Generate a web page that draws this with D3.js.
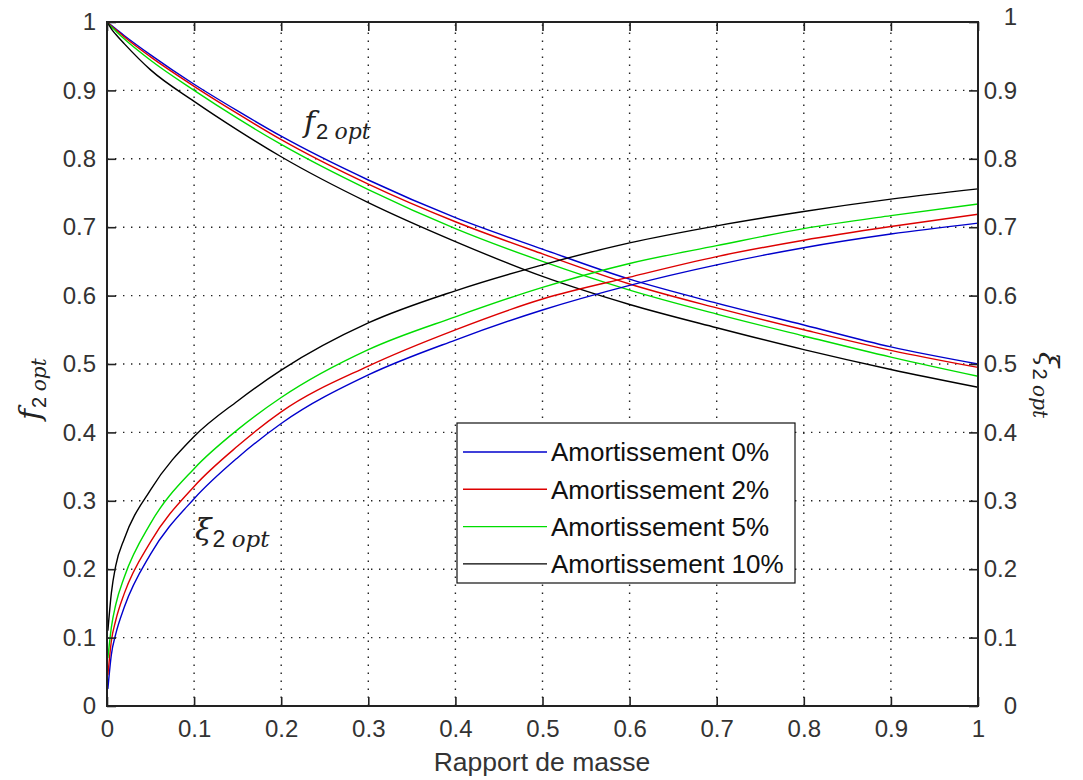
<!DOCTYPE html>
<html>
<head>
<meta charset="utf-8">
<script src="https://cdn.jsdelivr.net/npm/d3@7/dist/d3.min.js"></script>
<style>
  html, body { margin: 0; padding: 0; background: #fff; }
  svg { display: block; }
  .tick text { font-family: "Liberation Sans", Arial, sans-serif; font-size: 24px; fill: #333; }
</style>
</head>
<body>
<svg id="chart" width="1083" height="780"></svg>
<script>
// ---- data ----
const mu = [0.001, 0.005, 0.01, 0.02, 0.05, 0.1, 0.15, 0.2, 0.3, 0.4, 0.5, 0.6, 0.7, 0.8, 0.9, 1.0];
const fAtZero = 1;

const f2opt_0  = [0.999, 0.995, 0.990, 0.980, 0.952, 0.909, 0.870, 0.833, 0.769, 0.714, 0.668, 0.624, 0.589, 0.557, 0.525, 0.500];
const f2opt_2  = [0.999, 0.994, 0.989, 0.978, 0.949, 0.906, 0.866, 0.828, 0.763, 0.708, 0.661, 0.617, 0.582, 0.550, 0.520, 0.495];
const f2opt_5  = [0.998, 0.993, 0.987, 0.975, 0.944, 0.900, 0.859, 0.821, 0.755, 0.698, 0.650, 0.608, 0.573, 0.541, 0.510, 0.482];
const f2opt_10 = [0.998, 0.990, 0.982, 0.968, 0.930, 0.884, 0.842, 0.803, 0.736, 0.679, 0.628, 0.587, 0.553, 0.521, 0.492, 0.466];

const xi2opt_0  = [0.025, 0.075, 0.105, 0.145, 0.222, 0.303, 0.363, 0.413, 0.484, 0.535, 0.579, 0.615, 0.645, 0.670, 0.690, 0.706];
const xi2opt_2  = [0.045, 0.095, 0.125, 0.165, 0.240, 0.321, 0.380, 0.430, 0.497, 0.550, 0.595, 0.627, 0.657, 0.681, 0.701, 0.719];
const xi2opt_5  = [0.070, 0.115, 0.148, 0.189, 0.267, 0.347, 0.404, 0.451, 0.521, 0.569, 0.612, 0.647, 0.673, 0.698, 0.717, 0.734];
const xi2opt_10 = [0.110, 0.165, 0.205, 0.245, 0.316, 0.394, 0.446, 0.491, 0.560, 0.607, 0.645, 0.677, 0.702, 0.723, 0.741, 0.756];

const seriesNames  = ["Amortissement 0%", "Amortissement 2%", "Amortissement 5%", "Amortissement 10%"];
const seriesColors = ["#0000cc", "#dd0000", "#00dd00", "#000000"];
const fSeries  = [f2opt_0, f2opt_2, f2opt_5, f2opt_10];
const xiSeries = [xi2opt_0, xi2opt_2, xi2opt_5, xi2opt_10];

const xTicks = [0, 0.1, 0.2, 0.3, 0.4, 0.5, 0.6, 0.7, 0.8, 0.9, 1];
const yTicks = [0, 0.1, 0.2, 0.3, 0.4, 0.5, 0.6, 0.7, 0.8, 0.9, 1];

// ---- layout ----
const L = 107, R = 978, T = 22, B = 706;
const svg = d3.select("#chart");
const x = d3.scaleLinear().domain([0, 1]).range([L, R]);
const y = d3.scaleLinear().domain([0, 1]).range([B, T]);
const y2 = d3.scaleLinear().domain([0, 1]).range([B, T]);
const fmt = d => String(+d.toFixed(1));

// grid
const grid = svg.append("g").attr("stroke", "#222").attr("stroke-width", 1.4)
  .attr("stroke-dasharray", "1.4,6.6").attr("fill", "none");
xTicks.filter(t => t > 0 && t < 1).forEach(t => {
  grid.append("line").attr("x1", x(t)).attr("x2", x(t)).attr("y1", B).attr("y2", T);
});
yTicks.filter(t => t > 0 && t < 1).forEach(t => {
  grid.append("line").attr("x1", L).attr("x2", R).attr("y1", y(t)).attr("y2", y(t));
});

// curves
const fLine = d3.line().x(d => x(d[0])).y(d => y(d[1])).curve(d3.curveMonotoneX);
const xiLine = d3.line().x(d => x(d[0])).y(d => y2(d[1])).curve(d3.curveMonotoneX);
const curves = svg.append("g").attr("fill", "none").attr("stroke-width", 1.4);
fSeries.forEach((s, i) => {
  const pts = [[0, fAtZero]].concat(s.map((v, k) => [mu[k], v]));
  curves.append("path").attr("d", fLine(pts)).attr("stroke", seriesColors[i]);
});
xiSeries.forEach((s, i) => {
  const pts = s.map((v, k) => [mu[k], v]);
  curves.append("path").attr("d", xiLine(pts)).attr("stroke", seriesColors[i]);
});

// axes
const axStyle = g => {
  g.select(".domain").remove();
  g.selectAll(".tick line").attr("stroke", "#222").attr("stroke-width", 1.6);
};
svg.append("g").attr("transform", `translate(0,${B})`)
  .call(d3.axisBottom(x).tickValues(xTicks).tickSize(-9).tickPadding(14).tickFormat(fmt))
  .call(axStyle);
svg.append("g").attr("transform", `translate(0,${T})`)
  .call(d3.axisTop(x).tickValues(xTicks).tickSize(-9).tickFormat(""))
  .call(axStyle);
svg.append("g").attr("transform", `translate(${L},0)`)
  .call(d3.axisLeft(y).tickValues(yTicks).tickSize(-9).tickPadding(11).tickFormat(fmt))
  .call(axStyle);
const rAx = svg.append("g").attr("transform", `translate(${R},0)`)
  .call(d3.axisRight(y2).tickValues(yTicks).tickSize(-9).tickFormat(fmt))
  .call(axStyle);
rAx.selectAll(".tick text").attr("text-anchor", "end").attr("x", 39);
rAx.selectAll(".tick").filter(d => d === 1).select("text").attr("dy", "0.1em");

// frame
svg.append("rect").attr("x", L).attr("y", T).attr("width", R - L).attr("height", B - T)
  .attr("fill", "none").attr("stroke", "#222").attr("stroke-width", 2);

// legend
const lg = svg.append("g");
lg.append("rect").attr("x", 457).attr("y", 423).attr("width", 338).attr("height", 160)
  .attr("fill", "#fff").attr("stroke", "#111").attr("stroke-width", 1.2);
seriesNames.forEach((n, i) => {
  const yy = 452 + i * 37.3;
  lg.append("line").attr("x1", 463).attr("x2", 547).attr("y1", yy).attr("y2", yy)
    .attr("stroke", seriesColors[i]).attr("stroke-width", 1.4);
  lg.append("text").attr("x", 551).attr("y", yy).attr("dy", "0.36em")
    .attr("font-family", "Liberation Sans, Arial, sans-serif").attr("font-size", 26)
    .attr("fill", "#111").text(n);
});

// x label
svg.append("text").attr("x", 542).attr("y", 771).attr("text-anchor", "middle")
  .attr("font-family", "Liberation Sans, Arial, sans-serif").attr("font-size", 26.5)
  .attr("fill", "#333").text("Rapport de masse");

// math-like labels
function mathLabel(g, main, mainSize, subSize) {
  const t = g.append("text").attr("font-family", "DejaVu Serif, serif").attr("fill", "#222");
  t.append("tspan").attr("font-style", "italic").attr("font-size", mainSize).text(main);
  t.append("tspan").attr("font-size", subSize).attr("dy", subSize * 0.3).attr("dx", 1)
    .attr("font-family", "Liberation Sans, Arial, sans-serif").text("2 ");
  t.append("tspan").attr("font-size", subSize).attr("font-style", "italic")
    .attr("font-family", "DejaVu Serif, serif").text("opt");
  return t;
}
// left axis label (rotated -90)
mathLabel(svg.append("g").attr("transform", "translate(40,420) rotate(-90)"), "f", 30, 20);
// right axis label (rotated +90)
mathLabel(svg.append("g").attr("transform", "translate(1039,352) rotate(90)"), "ξ", 28, 20);
// in-plot annotations
mathLabel(svg.append("g").attr("transform", "translate(304,132)"), "f", 30, 22);
mathLabel(svg.append("g").attr("transform", "translate(195,540)"), "ξ", 30, 23);
</script>
</body>
</html>
